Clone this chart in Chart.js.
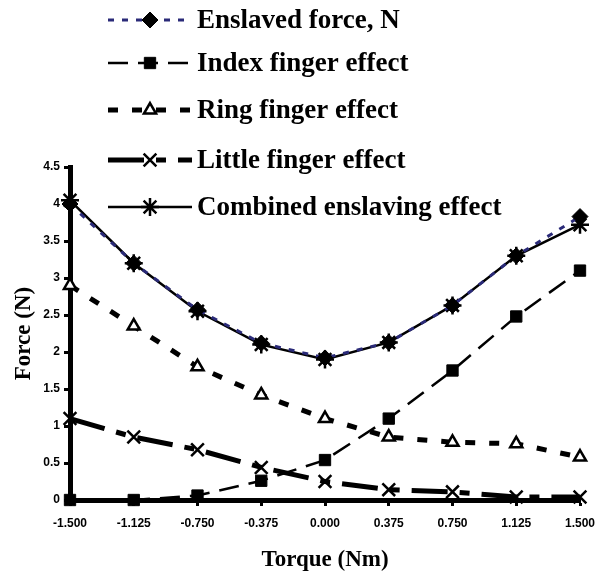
<!DOCTYPE html>
<html lang="en">
<head>
  <meta charset="UTF-8">
  <title>Enslaving effects vs torque</title>
  <script src="https://cdn.jsdelivr.net/npm/chart.js"></script>
  <style>
    html, body { margin: 0; padding: 0; background: #fff; }
    #wrap { width: 598px; height: 574px; }
  </style>
</head>
<body>
  <div id="wrap"><canvas id="forceChart" width="598" height="574"></canvas></div>
  <script>
    // torque levels (Nm) used as x categories
    const torqueLabels = ['-1.500', '-1.125', '-0.750', '-0.375', '0.000', '0.375', '0.750', '1.125', '1.500'];
    const yTickLabels = ['0', '0.5', '1', '1.5', '2', '2.5', '3', '3.5', '4', '4.5'];

    // values (N)
    const enslavedForce = [4.00, 3.20, 2.57, 2.12, 1.92, 2.13, 2.63, 3.30, 3.83];
    const indexEffect   = [0.00, 0.00, 0.06, 0.26, 0.54, 1.10, 1.75, 2.48, 3.10];
    const ringEffect    = [2.90, 2.35, 1.80, 1.42, 1.10, 0.85, 0.78, 0.76, 0.58];
    const littleEffect  = [1.10, 0.85, 0.68, 0.44, 0.25, 0.14, 0.11, 0.04, 0.04];
    const combinedEffect = [4.05, 3.20, 2.55, 2.10, 1.90, 2.13, 2.63, 3.30, 3.72];

    const seriesNames = ['Enslaved force, N', 'Index finger effect', 'Ring finger effect',
                         'Little finger effect', 'Combined enslaving effect'];

    // legend drawn inside the plot, like the original figure
    const legendInside = {
      id: 'legendInside',
      afterDraw(chart) {
        const ctx = chart.ctx;
        const rows = [20, 63, 110, 160, 207];
        chart.data.datasets.forEach((ds, i) => {
          const y = rows[i];
          ctx.save();
          // line sample
          ctx.strokeStyle = ds.borderColor;
          ctx.lineWidth = ds.borderWidth;
          ctx.setLineDash(ds.borderDash || []);
          ctx.beginPath();
          ctx.moveTo(108, y);
          ctx.lineTo(192, y);
          ctx.stroke();
          ctx.setLineDash([]);
          // marker
          ctx.fillStyle = ds.pointBackgroundColor;
          ctx.strokeStyle = ds.pointBorderColor;
          ctx.lineWidth = ds.pointBorderWidth;
          Chart.helpers.drawPoint(ctx, {
            pointStyle: ds.pointStyle,
            radius: ds.pointRadius,
            borderWidth: ds.pointBorderWidth
          }, 150, y);
          // text
          ctx.fillStyle = '#000';
          ctx.font = 'bold 27px "Liberation Serif", "Times New Roman", serif';
          ctx.textBaseline = 'middle';
          ctx.fillText(seriesNames[i], 197, y + 1);
          ctx.restore();
        });
      }
    };

    const ctx = document.getElementById('forceChart').getContext('2d');
    new Chart(ctx, {
      type: 'line',
      data: {
        labels: torqueLabels,
        datasets: [
          {
            label: seriesNames[0], data: enslavedForce,
            borderColor: '#2a2a78', borderWidth: 3, borderDash: [6, 8],
            pointStyle: 'rectRot', pointRadius: 8, pointBorderWidth: 1,
            pointBackgroundColor: '#000', pointBorderColor: '#000', clip: false
          },
          {
            label: seriesNames[1], data: indexEffect,
            borderColor: '#000', borderWidth: 2.5, borderDash: [20, 10],
            pointStyle: 'rect', pointRadius: 8, pointBorderWidth: 1,
            pointBackgroundColor: '#000', pointBorderColor: '#000', clip: false
          },
          {
            label: seriesNames[2], data: ringEffect,
            borderColor: '#000', borderWidth: 5, borderDash: [10, 14],
            pointStyle: 'triangle', pointRadius: 7, pointBorderWidth: 2.5,
            pointBackgroundColor: '#fff', pointBorderColor: '#000', clip: false
          },
          {
            label: seriesNames[3], data: littleEffect,
            borderColor: '#000', borderWidth: 5, borderDash: [36, 12, 10, 12],
            pointStyle: 'crossRot', pointRadius: 9, pointBorderWidth: 2.5,
            pointBackgroundColor: '#000', pointBorderColor: '#000', clip: false
          },
          {
            label: seriesNames[4], data: combinedEffect,
            borderColor: '#000', borderWidth: 2.5,
            pointStyle: 'star', pointRadius: 9, pointBorderWidth: 2.5,
            pointBackgroundColor: '#000', pointBorderColor: '#000', clip: false
          }
        ]
      },
      options: {
        responsive: false,
        animation: false,
        layout: { padding: { top: 167, right: 18, left: 0, bottom: 0 } },
        plugins: { legend: { display: false }, tooltip: { enabled: false } },
        elements: { line: { tension: 0 } },
        scales: {
          x: {
            type: 'category',
            offset: false,
            afterFit(scale) {
              scale.height = 74;
              scale.paddingLeft = 0;
              scale.paddingRight = 0;
            },
            border: { color: '#000', width: 5 },
            grid: { drawOnChartArea: false, color: '#000', tickLength: 6, tickWidth: 3 },
            ticks: {
              color: '#000', padding: 10, maxRotation: 0, autoSkip: false,
              font: { family: 'Liberation Sans, Arial, sans-serif', size: 12, weight: 'bold' }
            },
            title: {
              display: true, text: 'Torque (Nm)', color: '#000',
              padding: { top: 4, bottom: 0 },
              font: { family: 'Liberation Serif, Times New Roman, serif', size: 23, weight: 'bold' }
            }
          },
          y: {
            min: 0, max: 4.5,
            afterFit(scale) { scale.width = 70; },
            border: { color: '#000', width: 5 },
            grid: { drawOnChartArea: false, color: '#000', tickLength: 6, tickWidth: 3 },
            ticks: {
              stepSize: 0.5, color: '#000', padding: 4,
              callback: (v, i) => yTickLabels[i],
              font: { family: 'Liberation Sans, Arial, sans-serif', size: 12, weight: 'bold' }
            },
            title: {
              display: true, text: 'Force (N)', color: '#000',
              padding: { top: 10, bottom: 0 },
              font: { family: 'Liberation Serif, Times New Roman, serif', size: 23, weight: 'bold' }
            }
          }
        }
      },
      plugins: [legendInside]
    });
  </script>
</body>
</html>
